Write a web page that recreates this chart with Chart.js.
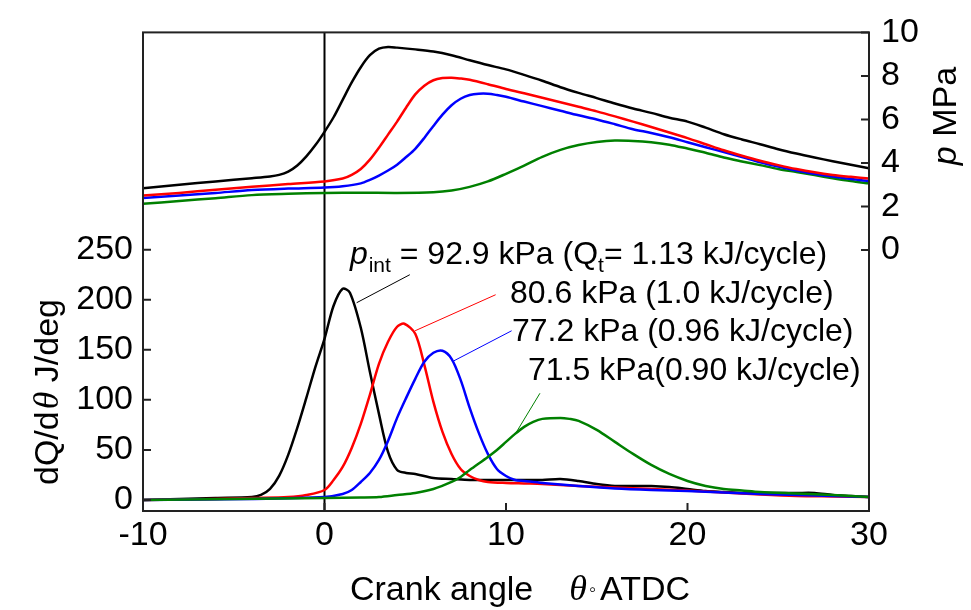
<!DOCTYPE html>
<html>
<head>
<meta charset="utf-8">
<script src="https://cdn.jsdelivr.net/npm/chart.js@4.4.1/dist/chart.umd.min.js"></script>
<style>
    html, body { margin: 0; padding: 0; background: #fff; }
    #wrap { width: 971px; height: 610px; }
</style>
</head>
<body>
<div id="wrap"><canvas id="chart" width="971" height="610"></canvas></div>
<script>
// ---- Cylinder pressure, p MPa (right axis) ----
const pBlackTheta = [-10, -8, -6, -4, -3, -2.5, -2, -1.5, -1, -0.5, 0, 0.5, 1, 1.5, 2, 2.5, 3, 3.5, 4, 5, 6, 7, 8, 9, 10, 11, 12, 13, 14, 15, 16, 17, 18, 19, 20, 21, 22, 23, 24, 25, 26, 27, 28, 29, 30];
const pBlack      = [2.83, 3.0, 3.15, 3.3, 3.38, 3.45, 3.6, 3.88, 4.3, 4.82, 5.43, 6.1, 6.9, 7.7, 8.4, 8.95, 9.25, 9.33, 9.3, 9.22, 9.12, 8.95, 8.72, 8.5, 8.3, 8.05, 7.78, 7.48, 7.22, 6.98, 6.73, 6.5, 6.3, 6.08, 5.9, 5.62, 5.32, 5.08, 4.86, 4.63, 4.43, 4.25, 4.08, 3.92, 3.75];

const pRedTheta = [-10, -8, -6, -4, -2, 0, 1, 1.5, 2, 2.5, 3, 3.5, 4, 4.5, 5, 5.5, 6, 6.5, 7, 7.5, 8, 9, 10, 11, 12, 13, 14, 15, 16, 17, 18, 19, 20, 21, 22, 23, 24, 25, 26, 27, 28, 29, 30];
const pRed      = [2.5, 2.62, 2.77, 2.9, 3.03, 3.15, 3.28, 3.45, 3.72, 4.15, 4.7, 5.3, 5.9, 6.55, 7.15, 7.55, 7.8, 7.9, 7.92, 7.88, 7.82, 7.62, 7.4, 7.2, 7.0, 6.79, 6.58, 6.37, 6.14, 5.9, 5.65, 5.4, 5.14, 4.86, 4.58, 4.33, 4.1, 3.9, 3.72, 3.57, 3.45, 3.36, 3.28];

const pBlueTheta = [-10, -8, -6, -4, -2, 0, 1, 2, 2.5, 3, 3.5, 4, 4.5, 5, 5.5, 6, 6.5, 7, 7.5, 8, 8.5, 9, 9.5, 10, 11, 12, 13, 14, 15, 16, 17, 18, 19, 20, 21, 22, 23, 24, 25, 26, 27, 28, 29, 30];
const pBlue      = [2.39, 2.5, 2.62, 2.75, 2.82, 2.87, 2.93, 3.06, 3.22, 3.42, 3.65, 3.92, 4.27, 4.65, 5.15, 5.7, 6.22, 6.65, 6.95, 7.12, 7.18, 7.18, 7.12, 7.04, 6.82, 6.61, 6.4, 6.19, 6.0, 5.78, 5.55, 5.38, 5.18, 4.95, 4.72, 4.5, 4.27, 4.03, 3.83, 3.65, 3.5, 3.37, 3.26, 3.17];

const pGreenTheta = [-10, -8, -6, -4, -2, 0, 2, 4, 6, 7, 8, 9, 10, 11, 12, 13, 14, 15, 16, 17, 18, 19, 20, 21, 22, 23, 24, 25, 26, 27, 28, 29, 30];
const pGreen      = [2.12, 2.25, 2.38, 2.52, 2.58, 2.62, 2.63, 2.62, 2.65, 2.73, 2.9, 3.15, 3.5, 3.88, 4.28, 4.6, 4.82, 4.96, 5.03, 5.01, 4.95, 4.84, 4.66, 4.47, 4.25, 4.07, 3.9, 3.72, 3.58, 3.44, 3.3, 3.17, 3.06];

// ---- Heat release rate, dQ/dθ J/deg (left axis) ----
const qBlackTheta = [-10, -8, -6, -4, -3.5, -3, -2.5, -2, -1.5, -1, -0.5, 0, 0.5, 1, 1.4, 2, 2.5, 3, 3.5, 4, 4.5, 5, 6, 7, 8, 9, 10, 11, 12, 13, 14, 15, 16, 17, 18, 19, 20, 21, 22, 23, 24, 25, 26, 27, 28, 29, 30];
const qBlack      = [0, 1, 2, 3, 5, 11, 24, 45, 72, 102, 133, 161, 194, 211, 207, 172, 128, 86, 48, 30, 27, 26, 22, 21, 20, 20, 20, 20, 20, 21, 19, 16, 14, 14, 14, 13, 11, 9, 8, 7, 7, 7, 7, 7, 5, 4, 3];

const qRedTheta = [-10, -6, -4, -2, -1, 0, 0.5, 1, 1.5, 2, 2.5, 3, 3.5, 4, 4.4, 5, 5.5, 6, 6.5, 7, 7.5, 8, 8.5, 9, 10, 11, 12, 14, 16, 18, 20, 22, 24, 26, 28, 30];
const qRed      = [0, 1, 2, 3, 5, 10, 20, 33, 52, 76, 105, 136, 158, 173, 176, 166, 135, 98, 68, 46, 31, 24, 20, 18, 17, 16.5, 16, 14, 12.5, 11, 9.5, 7.5, 5.5, 4, 3.5, 3];

const qBlueTheta = [-10, -4, 0, 1, 1.5, 2, 2.5, 3, 3.5, 4, 4.5, 5, 5.5, 6, 6.5, 7, 7.5, 8, 8.5, 9, 9.5, 10, 10.5, 11, 12, 14, 16, 18, 20, 22, 24, 26, 28, 30];
const qBlue      = [0, 1, 3, 6, 10, 18, 27, 40, 59, 82, 102, 121, 138, 147, 149, 141, 120, 92, 67, 46, 31, 24, 20, 19, 17, 14, 11.5, 10, 9, 7.5, 6, 5, 4, 3];

const qGreenTheta = [-10, 0, 2, 3, 4, 5, 6, 7, 7.5, 8, 9, 9.5, 10, 10.5, 11, 11.5, 12, 13, 13.5, 14, 15, 16, 17, 18, 19, 20, 21, 22, 23, 24, 26, 28, 30];
const qGreen      = [0, 2, 2.5, 3, 5, 7, 11, 18, 23, 30, 43, 50, 58, 66, 73, 78, 81, 82, 81, 79, 70, 58, 46, 35, 26, 19, 14, 11, 9.5, 8, 6.5, 5, 3];

// ---- Leader lines from labels to curves (θ, dQ/dθ pairs) ----
const leaderTheta = [[1.77, 4.7], [4.99, 9.43], [7.13, 10.31], [10.5, 11.87]];
const leaderQ     = [[197, 225], [169, 205], [139, 169], [65.6, 106.6]];

// ---- Label anchors (left edge θ, baseline dQ/dθ) ----
const noteTheta = [1.4, 10.22, 10.33, 11.21];
const noteQ     = [236, 197, 159, 120];
const noteText  = ['80.6 kPa (1.0 kJ/cycle)', '77.2 kPa (0.96 kJ/cycle)', '71.5 kPa(0.90 kJ/cycle)'];

// ---- Axes ----
const xTicks = [-10, 0, 10, 20, 30];
const qTicks = [0, 50, 100, 150, 200, 250];
const pTicks = [0, 2, 4, 6, 8, 10];

const colors = ['#000000', '#ff0000', '#0000ff', '#008000'];
const SANS = '"Liberation Sans", Arial, sans-serif';
const SERIF = '"Liberation Serif", "Times New Roman", serif';

function pts(xs, ys) { return xs.map((x, i) => ({ x: x, y: ys[i] })); }

function curve(data, color, axis) {
    return {
        data: data,
        yAxisID: axis,
        borderColor: color,
        borderWidth: 2.5,
        pointRadius: 0,
        fill: false,
        tension: 0.3,
    };
}

const datasets = [
    curve(pts(pBlackTheta, pBlack), colors[0], 'yP'),
    curve(pts(pRedTheta, pRed), colors[1], 'yP'),
    curve(pts(pBlueTheta, pBlue), colors[2], 'yP'),
    curve(pts(pGreenTheta, pGreen), colors[3], 'yP'),
    curve(pts(qGreenTheta, qGreen), colors[3], 'yQ'),
    curve(pts(qBlueTheta, qBlue), colors[2], 'yQ'),
    curve(pts(qRedTheta, qRed), colors[1], 'yQ'),
    curve(pts(qBlackTheta, qBlack), colors[0], 'yQ'),
];
leaderTheta.forEach((xs, i) => {
    datasets.push({
        data: pts(xs, leaderQ[i]),
        yAxisID: 'yQ',
        borderColor: colors[i],
        borderWidth: 1,
        pointRadius: 0,
        fill: false,
    });
});

// draw a run of differently styled text pieces
function richWidth(ctx, parts) {
    let w = 0;
    parts.forEach(p => { ctx.font = p.font; w += ctx.measureText(p.text).width + (p.gap || 0); });
    return w;
}
function drawRich(ctx, parts, x, y) {
    let cx = x;
    parts.forEach(p => {
        ctx.font = p.font;
        ctx.fillText(p.text, cx, y + (p.dy || 0));
        cx += ctx.measureText(p.text).width + (p.gap || 0);
    });
}

const framePlugin = {
    id: 'frame',
    beforeDatasetsDraw(chart) {
        const { ctx, chartArea: a, scales } = chart;
        const x0 = scales.x.getPixelForValue(0);
        ctx.save();
        ctx.strokeStyle = '#000';
        ctx.lineWidth = 2;
        ctx.beginPath();
        ctx.moveTo(x0, a.top);
        ctx.lineTo(x0, a.bottom);
        ctx.stroke();
        ctx.restore();
    },
    afterDatasetsDraw(chart) {
        const { ctx, chartArea: a, scales } = chart;
        const tl = 8;
        ctx.save();
        ctx.strokeStyle = '#222';
        ctx.lineWidth = 2;
        ctx.strokeRect(a.left, a.top, a.right - a.left, a.bottom - a.top);

        // inward tick marks
        ctx.beginPath();
        qTicks.forEach(v => {
            const y = scales.yQ.getPixelForValue(v);
            ctx.moveTo(a.left, y); ctx.lineTo(a.left + tl, y);
        });
        pTicks.forEach(v => {
            const y = scales.yP.getPixelForValue(v);
            ctx.moveTo(a.right, y); ctx.lineTo(a.right - tl, y);
        });
        xTicks.forEach(v => {
            const x = scales.x.getPixelForValue(v);
            ctx.moveTo(x, a.bottom); ctx.lineTo(x, a.bottom - tl);
        });
        ctx.stroke();

        ctx.fillStyle = '#000';
        ctx.textBaseline = 'alphabetic';
        ctx.textAlign = 'left';

        // curve labels
        const big = '32px ' + SANS;
        const sub = '21px ' + SANS;
        const px = (i) => scales.x.getPixelForValue(noteTheta[i]);
        const py = (i) => scales.yQ.getPixelForValue(noteQ[i]);
        drawRich(ctx, [
            { text: 'p', font: 'italic ' + big, gap: 1 },
            { text: 'int', font: sub, dy: 8 },
            { text: ' = 92.9 kPa (Q', font: big },
            { text: 't', font: sub, dy: 8 },
            { text: '= 1.13 kJ/cycle)', font: big },
        ], px(0), py(0));
        ctx.font = big;
        noteText.forEach((t, i) => ctx.fillText(t, px(i + 1), py(i + 1)));

        // axis titles
        const tf = '34px ' + SANS;
        const th = 'italic 36px ' + SERIF;

        const xParts = [
            { text: 'Crank angle', font: tf, gap: 36 },
            { text: 'θ', font: th, gap: 2 },
            { text: '◦', font: '20px ' + SANS, dy: -4, gap: 4 },
            { text: 'ATDC', font: tf },
        ];
        const xw = richWidth(ctx, xParts);
        drawRich(ctx, xParts, 520 - xw / 2, 600);

        const yParts = [
            { text: 'dQ/d', font: tf, gap: 2 },
            { text: 'θ', font: th },
            { text: ' J/deg', font: tf },
        ];
        const yw = richWidth(ctx, yParts);
        ctx.save();
        ctx.translate(58, 392);
        ctx.rotate(-Math.PI / 2);
        drawRich(ctx, yParts, -yw / 2, 0);
        ctx.restore();

        const rParts = [
            { text: 'p', font: 'italic ' + tf },
            { text: ' MPa', font: tf },
        ];
        const rw = richWidth(ctx, rParts);
        ctx.save();
        ctx.translate(956, 116);
        ctx.rotate(-Math.PI / 2);
        drawRich(ctx, rParts, -rw / 2, 0);
        ctx.restore();

        ctx.restore();
    }
};

const tickFont = { family: SANS, size: 34 };

new Chart(document.getElementById('chart'), {
    type: 'line',
    data: { datasets: datasets },
    options: {
        responsive: false,
        animation: false,
        devicePixelRatio: 1,
        layout: { padding: { top: 25, left: 0, right: 0, bottom: 0 } },
        plugins: { legend: { display: false }, tooltip: { enabled: false } },
        scales: {
            x: {
                type: 'linear',
                min: -10,
                max: 30,
                afterBuildTicks: s => { s.ticks = xTicks.map(v => ({ value: v })); },
                afterFit: s => { s.height = 99; },
                grid: { display: false, drawTicks: false },
                border: { display: false },
                ticks: { color: '#000', font: tickFont, padding: 4, maxRotation: 0 },
            },
            yQ: {
                position: 'left',
                min: -11,
                max: 467,
                afterBuildTicks: s => { s.ticks = qTicks.map(v => ({ value: v })); },
                afterFit: s => { s.width = 143; },
                grid: { display: false, drawTicks: false },
                border: { display: false },
                ticks: { color: '#000', font: tickFont, padding: 10 },
            },
            yP: {
                position: 'right',
                min: -12,
                max: 10,
                afterBuildTicks: s => { s.ticks = pTicks.map(v => ({ value: v })); },
                afterFit: s => { s.width = 102; },
                grid: { display: false, drawTicks: false },
                border: { display: false },
                ticks: { color: '#000', font: tickFont, padding: 12 },
            },
        },
    },
    plugins: [framePlugin],
});
</script>
</body>
</html>
